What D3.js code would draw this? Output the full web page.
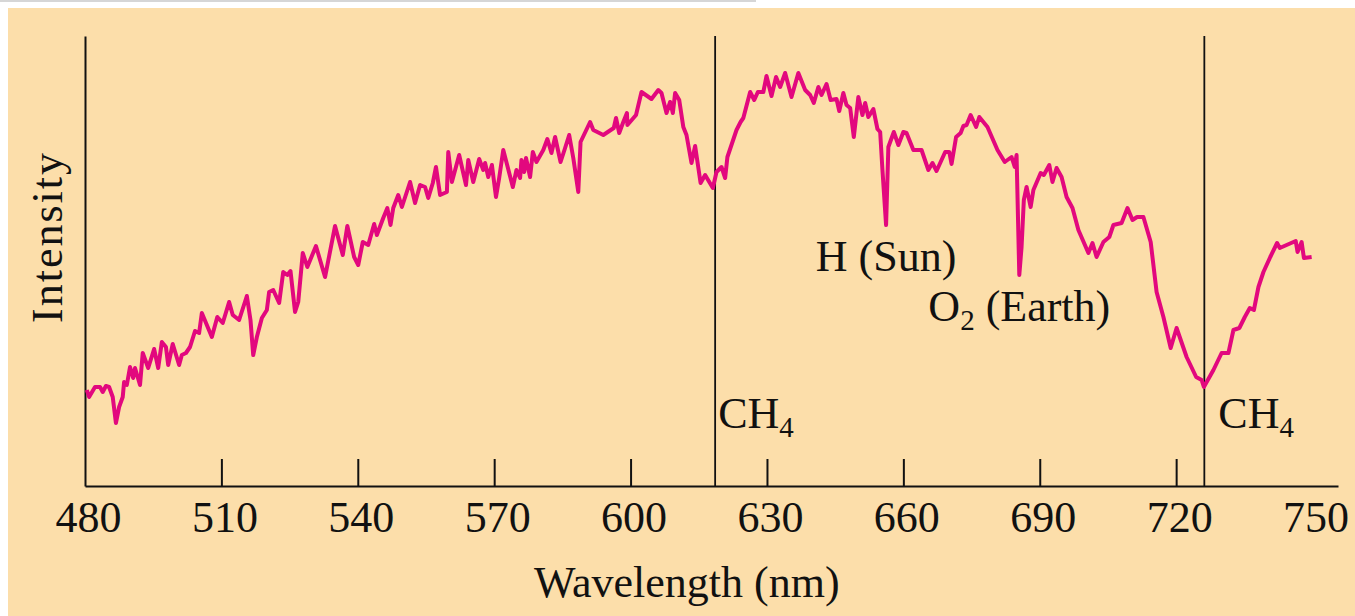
<!DOCTYPE html>
<html>
<head>
<meta charset="utf-8">
<script src="https://cdn.jsdelivr.net/npm/d3@7"></script>
<style>
  body { margin: 0; background: #fff; }
  svg { display: block; }
  text { font-family: "Liberation Serif", "Times New Roman", serif; fill: #111; }
</style>
</head>
<body>
<svg id="chart" width="1355" height="616"></svg>
<script>
"use strict";

// Spectrum (wavelength in nm, intensity in arbitrary units)
const wavelength = [
  480.4, 480.9, 482.2, 483.3, 483.9, 484.6, 485.3, 486.1, 486.8, 487.5, 488.3, 488.6, 489.2, 489.9, 490.6, 491.0,
  492.1, 492.7, 493.9, 495.2, 496.1, 496.9, 497.8, 498.3, 499.3, 500.7, 501.3, 502.2, 503.1, 504.2, 505.1, 505.7,
  507.9, 509.1, 510.3, 511.7, 512.5, 513.9, 515.6, 516.4, 517.0, 517.8, 518.9, 520.0, 520.5, 521.4, 522.7, 523.6,
  524.5, 525.2, 526.2, 526.9, 527.9, 528.9, 530.8, 532.8, 535.0, 536.7, 537.7, 539.2, 540.1, 541.1, 542.3, 543.6,
  544.2, 545.6, 546.5, 547.2, 547.8, 548.9, 549.7, 551.5, 552.6, 553.7, 554.8, 555.5, 556.5, 557.2, 558.1, 559.6,
  559.9, 560.7, 562.3, 563.8, 564.3, 565.4, 566.7, 567.6, 568.0, 568.7, 569.5, 570.4, 571.1, 572.0, 574.1, 574.9,
  575.7, 576.0, 576.6, 577.0, 577.9, 578.5, 579.3, 580.8, 581.7, 582.6, 583.4, 584.6, 585.6, 586.5, 587.4, 588.5,
  589.0, 591.1, 591.8, 594.0, 596.3, 596.8, 597.5, 598.4, 599.2, 599.3, 601.2, 602.4, 604.6, 606.1, 606.8, 607.9,
  608.7, 609.3, 609.8, 610.7, 611.6, 612.3, 613.4, 614.2, 615.4, 616.4, 618.1, 618.9, 620.0, 620.8, 621.3, 623.3,
  624.2, 624.8, 626.3, 627.2, 628.0, 629.2, 629.9, 631.0, 632.0, 632.9, 634.0, 635.4, 636.9, 638.4, 639.5, 640.3,
  641.3, 642.0, 643.1, 644.0, 645.3, 645.9, 646.8, 647.5, 648.3, 649.1, 650.1, 651.0, 651.6, 652.3, 653.4, 654.3,
  654.9, 655.4, 656.2, 656.7, 657.9, 658.9, 660.0, 660.7, 662.2, 664.0, 665.5, 666.4, 667.3, 669.2, 670.1, 670.6,
  671.6, 672.6, 673.2, 673.9, 674.8, 676.0, 676.7, 678.5, 680.7, 682.3, 683.8, 684.5, 684.9, 685.5, 686.0, 686.5,
  687.1, 688.0, 688.6, 690.2, 690.9, 692.1, 692.8, 693.7, 694.8, 695.9, 697.2, 698.5, 700.7, 701.6, 702.5, 704.0,
  705.3, 706.2, 708.0, 709.3, 710.4, 711.4, 712.8, 714.4, 715.7, 717.2, 718.8, 720.1, 722.3, 724.4, 725.6, 726.1,
  728.2, 730.0, 731.5, 732.6, 733.9, 735.1, 736.2, 737.1, 738.1, 739.2, 740.7, 742.2, 742.8, 746.3, 746.7, 747.6,
  748.1, 749.8
];
const intensity = [
  96, 89, 99, 99, 94, 100, 99, 89, 63, 79, 89, 104, 101, 119, 108, 118,
  101, 133, 118, 137, 118, 144, 139, 121, 142, 121, 131, 133, 139, 155, 153, 173,
  149, 169, 163, 184, 171, 166, 190, 166, 131, 149, 168, 176, 194, 196, 183, 214,
  211, 215, 174, 184, 233, 219, 240, 209, 260, 231, 260, 229, 221, 244, 241, 262,
  251, 268, 278, 261, 278, 291, 279, 304, 283, 301, 299, 288, 303, 319, 291, 294,
  334, 304, 331, 301, 326, 304, 327, 316, 323, 309, 321, 289, 308, 336, 299, 316,
  308, 326, 314, 328, 309, 334, 324, 336, 347, 333, 349, 324, 338, 351, 328, 294,
  344, 364, 356, 351, 358, 368, 353, 364, 373, 361, 371, 394, 387, 396, 393, 373,
  384, 373, 393, 386, 359, 351, 323, 340, 303, 311, 298, 314, 319, 308, 329, 356,
  364, 368, 394, 386, 394, 394, 410, 390, 409, 399, 413, 389, 413, 396, 391, 383,
  399, 391, 402, 386, 387, 375, 393, 381, 378, 349, 389, 371, 383, 369, 377, 357,
  354, 316, 261, 339, 354, 341, 354, 353, 336, 336, 316, 323, 315, 334, 334, 322,
  349, 353, 360, 361, 371, 359, 369, 359, 336, 324, 329, 319, 331, 211, 239, 286,
  299, 279, 296, 313, 311, 321, 304, 318, 309, 289, 278, 256, 233, 243, 229, 244,
  249, 261, 263, 278, 266, 269, 269, 244, 194, 169, 138, 158, 129, 109, 106, 99,
  116, 133, 133, 156, 158, 169, 178, 176, 199, 214, 229, 243, 238, 245, 234, 244,
  228, 229
];

const xTicks = [480, 510, 540, 570, 600, 630, 660, 690, 720, 750];
const methaneBands = [618.6, 726.2];
const lineLabels = ["H (Sun)", "O2 (Earth)"];
const lineWavelengths = [656.2, 685.5];

const width = 1355;
const height = 616;
const margin = { top: 36, right: 17, bottom: 130, left: 85 };

const svg = d3.select("#chart");

// page background, thin grey rule and the peach panel
svg.append("rect").attr("x", 0).attr("y", 0).attr("width", 756).attr("height", 2).attr("fill", "#d6d6d6");
svg.append("rect").attr("x", 8).attr("y", 8).attr("width", width - 8).attr("height", height - 8).attr("fill", "#fcdeaa");

const x = d3.scaleLinear()
  .domain([480, 755.6])
  .range([margin.left, width - margin.right]);

const y = d3.scaleLinear()
  .domain([0, 450])
  .range([height - margin.bottom, margin.top]);

const data = wavelength.map((w, i) => ({ w, v: intensity[i] }));

// CH4 absorption markers
const bands = svg.append("g").attr("class", "bands");
bands.selectAll("line")
  .data(methaneBands)
  .join("line")
  .attr("x1", (d) => x(d))
  .attr("x2", (d) => x(d))
  .attr("y1", y(450))
  .attr("y2", y(0))
  .attr("stroke", "#111")
  .attr("stroke-width", 1.8);

const ch4 = bands.selectAll("text")
  .data(methaneBands)
  .join("text")
  .attr("x", (d, i) => x(d) + (i === 0 ? 3 : 14))
  .attr("y", y(0) - 58)
  .attr("font-size", 44);
ch4.append("tspan").text("CH");
ch4.append("tspan").attr("font-size", 29).attr("dy", 9).text("4");

// axes
const xAxis = d3.axisBottom(x)
  .tickValues(xTicks)
  .tickSizeInner(-27)
  .tickSizeOuter(0)
  .tickPadding(15);

const xAxisGroup = svg.append("g")
  .attr("class", "axis")
  .attr("transform", `translate(0,${y(0)})`)
  .call(xAxis);
xAxisGroup.select(".domain").attr("stroke", "#111").attr("stroke-width", 2);
xAxisGroup.selectAll(".tick line")
  .attr("stroke", "#111")
  .attr("stroke-width", 2)
  .filter((d) => d === 480 || d === 750)
  .remove();
xAxisGroup.selectAll(".tick text")
  .attr("font-family", null)
  .attr("font-size", 44)
  .attr("dx", 3)
  .attr("fill", "#111");

const yAxisGroup = svg.append("g")
  .attr("class", "axis")
  .attr("transform", `translate(${margin.left},0)`)
  .call(d3.axisLeft(y).tickValues([]).tickSizeOuter(0));
yAxisGroup.select(".domain").attr("stroke", "#111").attr("stroke-width", 2);

// axis titles
svg.append("text")
  .attr("x", (x(480) + x(750)) / 2 - 12)
  .attr("y", 597)
  .attr("text-anchor", "middle")
  .attr("font-size", 44)
  .text("Wavelength (nm)");

svg.append("text")
  .attr("transform", `translate(62,${(y(0) + y(450)) / 2 - 24}) rotate(-90)`)
  .attr("text-anchor", "middle")
  .attr("font-size", 44)
  .attr("letter-spacing", 2)
  .text("Intensity");

// spectrum
const line = d3.line()
  .x((d) => x(d.w))
  .y((d) => y(d.v));

svg.append("path")
  .datum(data)
  .attr("fill", "none")
  .attr("stroke", "#e2087e")
  .attr("stroke-width", 4)
  .attr("stroke-linejoin", "round")
  .attr("d", line);

// labels under the two narrow absorption lines
lineLabels.forEach((label, i) => {
  const w = lineWavelengths[i];
  const nearest = data.reduce((a, b) => (Math.abs(b.w - w) < Math.abs(a.w - w) ? b : a));
  const t = svg.append("text")
    .attr("x", x(w))
    .attr("y", y(nearest.v) + 46)
    .attr("text-anchor", "middle")
    .attr("font-size", 44);
  if (label.startsWith("O2")) {
    t.append("tspan").text("O");
    t.append("tspan").attr("font-size", 29).attr("dy", 9).text("2");
    t.append("tspan").attr("dy", -9).text(" (Earth)");
  } else {
    t.text(label);
  }
});
</script>
</body>
</html>
